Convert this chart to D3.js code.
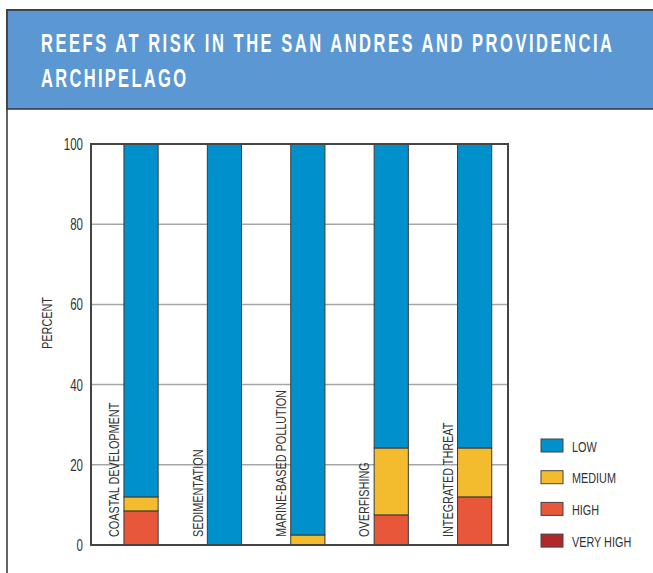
<!DOCTYPE html>
<html>
<head>
<meta charset="utf-8">
<script src="https://d3js.org/d3.v7.min.js"></script>
<style>
body { margin: 0; background: #fff; }
svg { display: block; }
text { font-family: "Liberation Sans", Arial, sans-serif; }
</style>
</head>
<body>
<svg width="653" height="573"></svg>
<script>
// data (percent of reefs)
var categories = ["COASTAL DEVELOPMENT", "SEDIMENTATION", "MARINE-BASED POLLUTION", "OVERFISHING", "INTEGRATED THREAT"];
var levels = ["VERY HIGH", "HIGH", "MEDIUM", "LOW"];
var veryHigh = [0, 0, 0, 0, 0];
var high = [8.5, 0, 0, 7.5, 12];
var medium = [3.5, 0, 2.5, 16.7, 12.2];
var low = [88, 100, 97.5, 75.8, 75.8];
var yTicks = [0, 20, 40, 60, 80, 100];
var legendOrder = ["LOW", "MEDIUM", "HIGH", "VERY HIGH"];

var colors = { "LOW": "#0091cd", "MEDIUM": "#f3bc2e", "HIGH": "#e8573a", "VERY HIGH": "#b0282b" };

var rows = categories.map(function (c, i) {
  return { cat: c, "VERY HIGH": veryHigh[i], "HIGH": high[i], "MEDIUM": medium[i], "LOW": low[i] };
});

var narrow = 0.7; // condensed look

var svg = d3.select("svg");

// frame + header
svg.append("rect").attr("x", 7).attr("y", 10).attr("width", 660).attr("height", 580)
  .attr("fill", "#fff").attr("stroke", "#333").attr("stroke-width", 1.5);
svg.append("rect").attr("x", 7).attr("y", 10).attr("width", 660).attr("height", 99)
  .attr("fill", "#5a97d3").attr("stroke", "#333").attr("stroke-width", 1.5);

// title: narrow glyphs, wide tracking
var tk = 0.66;
svg.append("text").attr("transform", "translate(41,52) scale(" + tk + ",1)").attr("fill", "#fff")
  .style("font-weight", "bold").style("font-size", "25px")
  .attr("textLength", 571 / tk).attr("lengthAdjust", "spacing")
  .text("REEFS AT RISK IN THE SAN ANDRES AND PROVIDENCIA");
svg.append("text").attr("transform", "translate(41,87) scale(" + tk + ",1)").attr("fill", "#fff")
  .style("font-weight", "bold").style("font-size", "25px")
  .attr("textLength", 145 / tk).attr("lengthAdjust", "spacing")
  .text("ARCHIPELAGO");

var pLeft = 91, pRight = 508, pTop = 144, pBottom = 545;

var x = d3.scaleBand().domain(categories).range([pLeft, pRight]);
var y = d3.scaleLinear().domain([0, 100]).range([pBottom, pTop]);

// gridlines
svg.append("g").selectAll("line").data(yTicks.filter(function (d) { return d > 0 && d < 100; }))
  .enter().append("line")
  .attr("x1", pLeft).attr("x2", pRight)
  .attr("y1", function (d) { return y(d); }).attr("y2", function (d) { return y(d); })
  .attr("stroke", "#a3a7ab").attr("stroke-width", 1.5);

// stacked bars
var stack = d3.stack().keys(levels)(rows);
var barW = x.bandwidth() * 0.41;
svg.append("g").selectAll("g").data(stack).enter().append("g")
  .attr("fill", function (s) { return colors[s.key]; })
  .selectAll("rect").data(function (s) { return s.filter(function (d) { return d[1] - d[0] > 0; }); })
  .enter().append("rect")
  .attr("x", function (d) { return x(d.data.cat) + x.bandwidth() * 0.395; })
  .attr("width", barW)
  .attr("y", function (d) { return y(d[1]); })
  .attr("height", function (d) { return y(d[0]) - y(d[1]); })
  .attr("stroke", "#3a3a3a").attr("stroke-width", 1);

// category labels (rotated inside plot)
svg.append("g").selectAll("text").data(categories).enter().append("text")
  .attr("transform", function (d) { return "translate(" + (x(d) + x.bandwidth() * 0.27) + "," + (pBottom - 8) + ") rotate(-90) scale(" + narrow + ",1)"; })
  .attr("dy", "0.36em")
  .style("font-size", "15.5px").attr("fill", "#333")
  .text(function (d) { return d; });

// axis box
svg.append("rect").attr("x", pLeft).attr("y", pTop).attr("width", pRight - pLeft).attr("height", pBottom - pTop)
  .attr("fill", "none").attr("stroke", "#444").attr("stroke-width", 2);

// y tick labels
svg.append("g").selectAll("text").data(yTicks).enter().append("text")
  .attr("transform", function (d) { return "translate(83," + y(d) + ") scale(" + narrow + ",1)"; })
  .attr("dy", "0.36em")
  .attr("text-anchor", "end").style("font-size", "16.5px").attr("fill", "#333")
  .text(function (d) { return d; });

svg.append("text").attr("transform", "translate(46,323) rotate(-90) scale(" + narrow + ",1)")
  .attr("text-anchor", "middle").attr("dy", "0.36em")
  .style("font-size", "15.5px").attr("fill", "#333").text("PERCENT");

// legend
var lg = svg.append("g").selectAll("g").data(legendOrder).enter().append("g")
  .attr("transform", function (d, i) { return "translate(541," + (439 + i * 31.7) + ")"; });
lg.append("rect").attr("width", 22).attr("height", 13)
  .attr("fill", function (d) { return colors[d]; }).attr("stroke", "#444").attr("stroke-width", 1);
lg.append("text").attr("transform", "translate(31,7) scale(" + narrow + ",1)").attr("dy", "0.36em")
  .style("font-size", "15.5px").attr("fill", "#333").text(function (d) { return d; });
</script>
</body>
</html>
